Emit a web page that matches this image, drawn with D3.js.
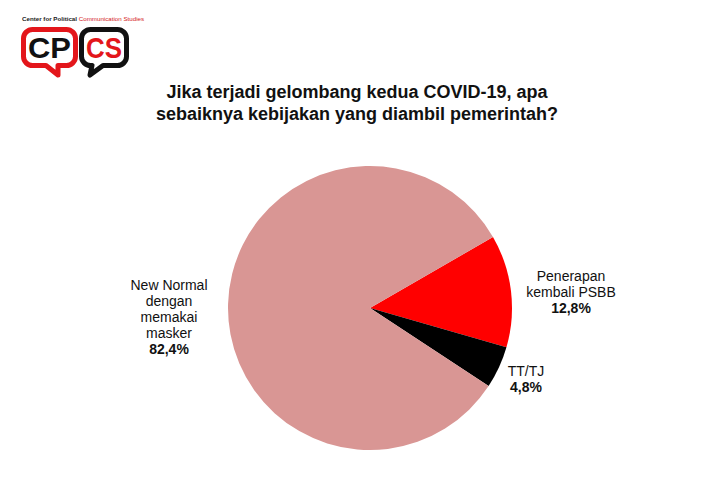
<!DOCTYPE html>
<html>
<head>
<meta charset="utf-8">
<script src="https://cdn.jsdelivr.net/npm/d3@7/dist/d3.min.js"></script>
<style>
  html, body { margin: 0; padding: 0; background: #fff; }
  svg { display: block; font-family: "Liberation Sans", Arial, sans-serif; }
</style>
</head>
<body>
<svg id="chart" width="721" height="495"></svg>
<script>
// ---- data ----
const categories = ["Penerapan kembali PSBB", "TT/TJ", "New Normal dengan memakai masker"];
const values = [12.8, 4.8, 82.4];
const valueLabels = ["12,8%", "4,8%", "82,4%"];
const labelLines = [["Penerapan", "kembali PSBB"], ["TT/TJ"], ["New Normal", "dengan", "memakai", "masker"]];
const colors = ["#FF0000", "#000000", "#D99694"];
const titleLines = ["Jika terjadi gelombang kedua COVID-19, apa", "sebaiknya kebijakan yang diambil pemerintah?"];

// ---- layout ----
const W = 721, H = 495;
const cx = 370, cy = 308, R = 142;
const labelPos = [{x: 571, y: 281}, {x: 526, y: 376}, {x: 169, y: 290}];
const lineH = 16;

const svg = d3.select("#chart");
svg.append("rect").attr("width", W).attr("height", H).attr("fill", "#fff");

// ---- logo ----
const logo = svg.append("g");
const logoText = logo.append("text").attr("x", 22).attr("y", 21)
  .attr("font-size", 6.2).attr("font-weight", "bold");
logoText.append("tspan").attr("fill", "#222").text("Center for Political ");
logoText.append("tspan").attr("fill", "#D42020").attr("font-weight", "normal").text("Communication Studies");

function bubble(x0, y0, w, h, r, tail) {
  const x1 = x0 + w, y1 = y0 + h;
  const p = d3.path();
  p.moveTo(x0 + r, y0);
  p.lineTo(x1 - r, y0);
  p.arcTo(x1, y0, x1, y0 + r, r);
  p.lineTo(x1, y1 - r);
  p.arcTo(x1, y1, x1 - r, y1, r);
  p.lineTo(tail[1], y1);
  p.lineTo(tail[2], tail[3]);
  p.lineTo(tail[0], y1);
  p.lineTo(x0 + r, y1);
  p.arcTo(x0, y1, x0, y1 - r, r);
  p.lineTo(x0, y0 + r);
  p.arcTo(x0, y0, x0 + r, y0, r);
  p.closePath();
  return p.toString();
}
logo.append("path").attr("d", bubble(23.5, 29.5, 52, 36, 9, [46, 58, 58, 75]))
  .attr("fill", "#fff").attr("stroke", "#E3161B").attr("stroke-width", 5).attr("stroke-linejoin", "round");
logo.append("path").attr("d", bubble(81.5, 29.5, 45, 36, 9, [92, 103, 90, 75]))
  .attr("fill", "#fff").attr("stroke", "#111").attr("stroke-width", 5).attr("stroke-linejoin", "round");
logo.append("text").attr("x", 28).attr("y", 58)
  .attr("font-size", 30).attr("font-weight", "bold").attr("fill", "#111")
  .attr("textLength", 43).attr("lengthAdjust", "spacingAndGlyphs").text("CP");
logo.append("text").attr("x", 86).attr("y", 58)
  .attr("font-size", 30).attr("font-weight", "bold").attr("fill", "#E3161B")
  .attr("textLength", 36).attr("lengthAdjust", "spacingAndGlyphs").text("CS");

// ---- title ----
svg.append("g").selectAll("text").data(titleLines).join("text")
  .attr("x", 357).attr("y", (d, i) => 98 + i * 21.5)
  .attr("text-anchor", "middle").attr("font-size", 18).attr("font-weight", "bold").attr("fill", "#111")
  .text(d => d);

// ---- pie ----
const pie = d3.pie().sort(null).value(d => d)
  .startAngle(Math.PI / 3).endAngle(Math.PI / 3 + 2 * Math.PI);
const arcs = pie(values);
const arc = d3.arc().innerRadius(0).outerRadius(R);
svg.append("g").attr("transform", `translate(${cx},${cy})`)
  .selectAll("path").data(arcs).join("path")
  .attr("d", arc).attr("fill", (d, i) => colors[i]);

// ---- labels ----
const lg = svg.append("g").attr("font-size", 14).attr("fill", "#111").attr("text-anchor", "middle");
categories.forEach((c, i) => {
  const t = lg.append("text").attr("x", labelPos[i].x).attr("y", labelPos[i].y);
  labelLines[i].forEach((ln, j) => {
    t.append("tspan").attr("x", labelPos[i].x).attr("y", labelPos[i].y + j * lineH).text(ln);
  });
  t.append("tspan").attr("x", labelPos[i].x).attr("y", labelPos[i].y + labelLines[i].length * lineH)
    .attr("font-weight", "bold").text(valueLabels[i]);
});
</script>
</body>
</html>
